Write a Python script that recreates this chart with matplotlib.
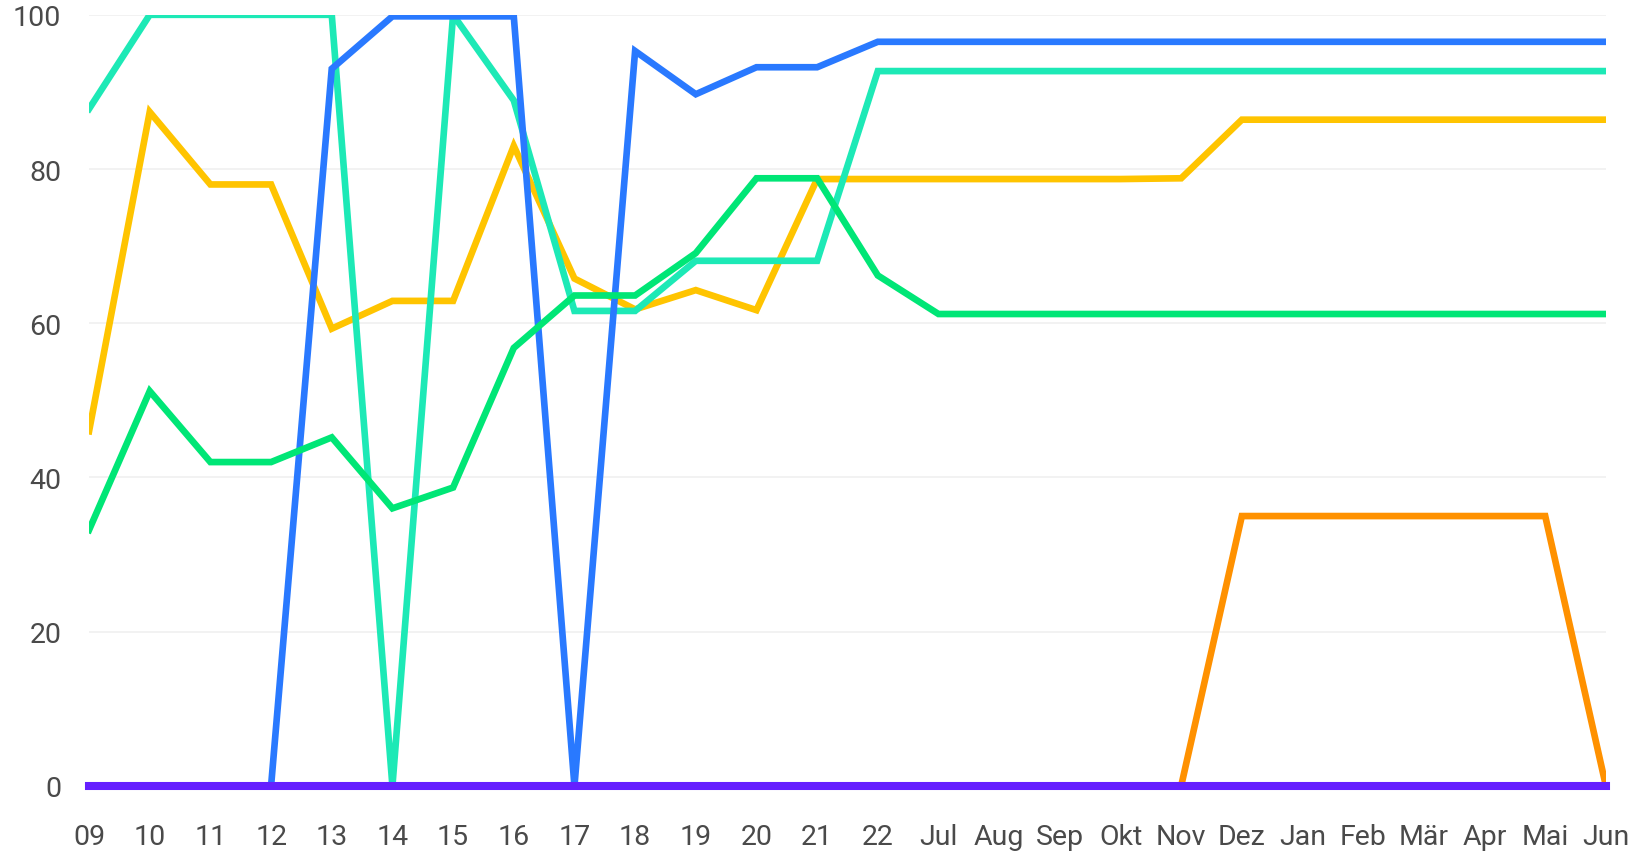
import matplotlib.pyplot as plt
import numpy as np

# x categories (years 2009-2022, then months)
labels = ['09', '10', '11', '12', '13', '14', '15', '16', '17', '18', '19', '20', '21', '22',
          'Jul', 'Aug', 'Sep', 'Okt', 'Nov', 'Dez', 'Jan', 'Feb', 'Mär', 'Apr', 'Mai', 'Jun']

blue = [0, 0, 0, 0, 93, 99.8, 99.8, 99.8, 0, 95.3, 89.7, 93.2, 93.2, 96.5,
        96.5, 96.5, 96.5, 96.5, 96.5, 96.5, 96.5, 96.5, 96.5, 96.5, 96.5, 96.5]
teal = [87.8, 100, 100, 100, 100, 0, 100, 88.9, 61.6, 61.6, 68.1, 68.1, 68.1, 92.7,
        92.7, 92.7, 92.7, 92.7, 92.7, 92.7, 92.7, 92.7, 92.7, 92.7, 92.7, 92.7]
yellow = [46, 87.4, 78, 78, 59.3, 62.9, 62.9, 83, 65.8, 61.8, 64.3, 61.7, 78.7, 78.7,
          78.7, 78.7, 78.7, 78.7, 78.8, 86.4, 86.4, 86.4, 86.4, 86.4, 86.4, 86.4]
green = [33.2, 51.2, 42, 42, 45.2, 36, 38.7, 56.8, 63.6, 63.6, 69.1, 78.8, 78.8, 66.2,
         61.2, 61.2, 61.2, 61.2, 61.2, 61.2, 61.2, 61.2, 61.2, 61.2, 61.2, 61.2]
orange = [0, 0, 0, 0, 0, 0, 0, 0, 0, 0, 0, 0, 0, 0,
          0, 0, 0, 0, 0, 35, 35, 35, 35, 35, 35, 0]
purple = [0] * len(labels)

plt.rcParams['font.family'] = ['Roboto', 'DejaVu Sans']

fig = plt.figure(figsize=(16.37, 8.54), dpi=100)
ax = fig.add_axes([0.0544, 0.0785, 0.9266, 0.903])

x = np.arange(len(labels))
lw = 4.8
ax.plot(x, orange, color='#ff9100', lw=lw, solid_joinstyle='miter')
ax.plot(x, yellow, color='#ffc400', lw=lw, solid_joinstyle='miter')
ax.plot(x, teal, color='#1de9b6', lw=lw, solid_joinstyle='miter')
ax.plot(x, blue, color='#2979ff', lw=lw, solid_joinstyle='miter')
ax.plot(x, green, color='#00e676', lw=lw, solid_joinstyle='miter')
ax.plot(x, purple, color='#651fff', lw=5.8, clip_on=False, zorder=5)

ax.set_xlim(0, len(labels) - 1)
ax.set_ylim(0, 100)
ax.set_xticks(x)
ax.set_xticklabels(labels)
ax.set_yticks([0, 20, 40, 60, 80, 100])

ax.grid(axis='y', color='#f0f0f0', lw=1.2)
ax.set_axisbelow(True)
for s in ax.spines.values():
    s.set_visible(False)
ax.tick_params(length=0, labelsize=20.5, colors='#4a4a4a')
ax.tick_params(axis='x', pad=27)
ax.tick_params(axis='y', pad=20)

fig.savefig('out.png', dpi=100)
